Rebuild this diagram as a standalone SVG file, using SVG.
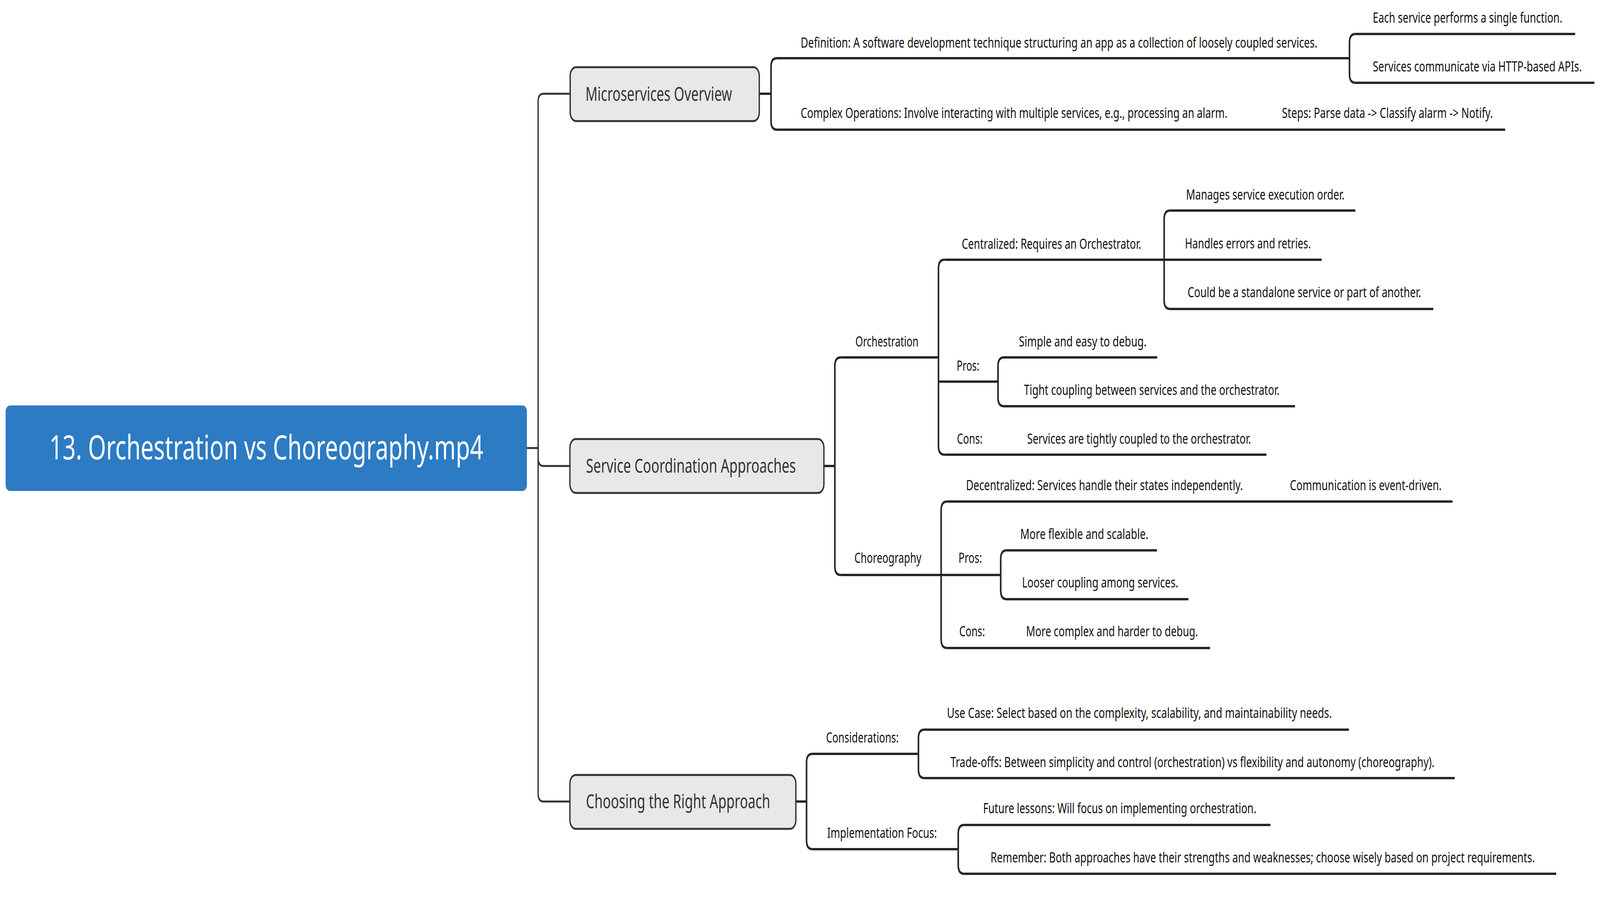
<svg xmlns="http://www.w3.org/2000/svg" width="5991" height="2299" viewBox="0 0 5991 2299" preserveAspectRatio="none">
<style>
@media (max-width: 5900px) { svg { width: 100vw; height: 100vh; } }
.bg{fill:#ffffff}
.root{fill:#2c7bc3}
.roott{font-family:"Noto Sans","Open Sans","Liberation Sans",sans-serif;font-size:86px;fill:#ffffff;text-anchor:middle}
.main{fill:#e8e8e8;stroke:#333333;stroke-width:5}
.maint{font-family:"Noto Sans","Open Sans","Liberation Sans",sans-serif;font-size:50px;fill:#333333}
.t{font-family:"Noto Sans","Open Sans","Liberation Sans",sans-serif;font-size:37px;fill:#111111}
.ln{fill:none;stroke:#262626;stroke-width:6;stroke-linecap:butt;stroke-linejoin:round}
.trunk{fill:none;stroke:#333333;stroke-width:5}
</style>
<rect class="bg" x="0" y="0" width="5991" height="2299"/>

<g id="connectors">
  <path class="trunk" d="M1973 1147 H2015"/>
  <path class="trunk" d="M2134 240 H2035 Q2015 240 2015 260 V2032 Q2015 2052 2035 2052 H2134"/>
  <path class="trunk" d="M2015 1173 Q2015 1193 2035 1193 H2134"/>

  <!-- Microservices -->
  <path class="ln" d="M2843 240 H2887"/>
  <path class="ln" d="M2909 149 Q2887 149 2887 171 V310 Q2887 332 2909 332"/>
  <path class="ln" d="M2909 149 H5053"/>
  <path class="ln" d="M2909 332 H5636"/>
  <path class="ln" d="M5075 87 Q5053 87 5053 109 V190 Q5053 212 5075 212"/>
  <path class="ln" d="M5075 87 H5898"/>
  <path class="ln" d="M5075 212 H5970"/>

  <!-- Service Coordination -->
  <path class="ln" d="M3085 1193 H3126"/>
  <path class="ln" d="M3148 915 Q3126 915 3126 937 V1450 Q3126 1472 3148 1472"/>
  <path class="ln" d="M3148 915 H3514"/>
  <path class="ln" d="M3148 1472 H3524"/>

  <path class="ln" d="M3536 665 Q3514 665 3514 687 V1142 Q3514 1164 3536 1164"/>
  <path class="ln" d="M3536 665 H4359"/>
  <path class="ln" d="M3514 977 H3737"/>
  <path class="ln" d="M3536 1164 H4742"/>

  <path class="ln" d="M4381 539 Q4359 539 4359 561 V769 Q4359 791 4381 791"/>
  <path class="ln" d="M4381 539 H5075"/>
  <path class="ln" d="M4359 665 H4949"/>
  <path class="ln" d="M4381 791 H5367"/>

  <path class="ln" d="M3759 915 Q3737 915 3737 937 V1018 Q3737 1040 3759 1040"/>
  <path class="ln" d="M3759 915 H4333"/>
  <path class="ln" d="M3759 1040 H4849"/>

  <path class="ln" d="M3546 1284 Q3524 1284 3524 1306 V1637 Q3524 1659 3546 1659"/>
  <path class="ln" d="M3546 1284 H5439"/>
  <path class="ln" d="M3524 1472 H3747"/>
  <path class="ln" d="M3546 1659 H4531"/>

  <path class="ln" d="M3769 1409 Q3747 1409 3747 1431 V1512 Q3747 1534 3769 1534"/>
  <path class="ln" d="M3769 1409 H4332"/>
  <path class="ln" d="M3769 1534 H4450"/>

  <!-- Choosing -->
  <path class="ln" d="M2980 2052 H3020"/>
  <path class="ln" d="M3042 1930 Q3020 1930 3020 1952 V2152 Q3020 2174 3042 2174"/>
  <path class="ln" d="M3042 1930 H3439"/>
  <path class="ln" d="M3042 2174 H3588"/>

  <path class="ln" d="M3461 1868 Q3439 1868 3439 1890 V1970 Q3439 1992 3461 1992"/>
  <path class="ln" d="M3461 1868 H5051"/>
  <path class="ln" d="M3461 1992 H5447"/>

  <path class="ln" d="M3610 2112 Q3588 2112 3588 2134 V2215 Q3588 2237 3610 2237"/>
  <path class="ln" d="M3610 2112 H4757"/>
  <path class="ln" d="M3610 2237 H5827"/>
</g>

<g id="root">
  <rect class="root" x="21" y="1038" width="1952" height="219" rx="16"/>
  <text class="roott" x="997" y="1176" textLength="1625" lengthAdjust="spacingAndGlyphs">13. Orchestration vs Choreography.mp4</text>
</g>

<g id="microservices-overview">
  <rect class="main" x="2135" y="172" width="708" height="138" rx="22"/>
  <text class="maint" x="2192" y="258" textLength="549" lengthAdjust="spacingAndGlyphs">Microservices Overview</text>
</g>
<g id="definition"><text class="t" x="2998" y="122" textLength="1935" lengthAdjust="spacingAndGlyphs">Definition: A software development technique structuring an app as a collection of loosely coupled services.</text></g>
<g id="single-function"><text class="t" x="5140" y="58" textLength="710" lengthAdjust="spacingAndGlyphs">Each service performs a single function.</text></g>
<g id="http-apis"><text class="t" x="5140" y="183" textLength="783" lengthAdjust="spacingAndGlyphs">Services communicate via HTTP-based APIs.</text></g>
<g id="complex-operations"><text class="t" x="2998" y="302" textLength="1598" lengthAdjust="spacingAndGlyphs">Complex Operations: Involve interacting with multiple services, e.g., processing an alarm.</text></g>
<g id="steps"><text class="t" x="4800" y="302" textLength="790" lengthAdjust="spacingAndGlyphs">Steps: Parse data -&gt; Classify alarm -&gt; Notify.</text></g>

<g id="service-coordination">
  <rect class="main" x="2134" y="1124" width="951" height="138" rx="22"/>
  <text class="maint" x="2194" y="1210" textLength="786" lengthAdjust="spacingAndGlyphs">Service Coordination Approaches</text>
</g>
<g id="orchestration"><text class="t" x="3203" y="887" textLength="236" lengthAdjust="spacingAndGlyphs">Orchestration</text></g>
<g id="centralized"><text class="t" x="3601" y="637" textLength="672" lengthAdjust="spacingAndGlyphs">Centralized: Requires an Orchestrator.</text></g>
<g id="manages-order"><text class="t" x="4441" y="511" textLength="593" lengthAdjust="spacingAndGlyphs">Manages service execution order.</text></g>
<g id="handles-errors"><text class="t" x="4437" y="636" textLength="471" lengthAdjust="spacingAndGlyphs">Handles errors and retries.</text></g>
<g id="standalone"><text class="t" x="4447" y="761" textLength="874" lengthAdjust="spacingAndGlyphs">Could be a standalone service or part of another.</text></g>
<g id="orch-pros"><text class="t" x="3582" y="949" textLength="85" lengthAdjust="spacingAndGlyphs">Pros:</text></g>
<g id="orch-simple"><text class="t" x="3815" y="887" textLength="478" lengthAdjust="spacingAndGlyphs">Simple and easy to debug.</text></g>
<g id="orch-tight"><text class="t" x="3834" y="1011" textLength="957" lengthAdjust="spacingAndGlyphs">Tight coupling between services and the orchestrator.</text></g>
<g id="orch-cons"><text class="t" x="3583" y="1136" textLength="96" lengthAdjust="spacingAndGlyphs">Cons:</text></g>
<g id="orch-cons-detail"><text class="t" x="3846" y="1136" textLength="838" lengthAdjust="spacingAndGlyphs">Services are tightly coupled to the orchestrator.</text></g>

<g id="choreography"><text class="t" x="3199" y="1441" textLength="251" lengthAdjust="spacingAndGlyphs">Choreography</text></g>
<g id="decentralized"><text class="t" x="3617" y="1255" textLength="1037" lengthAdjust="spacingAndGlyphs">Decentralized: Services handle their states independently.</text></g>
<g id="event-driven"><text class="t" x="4830" y="1255" textLength="568" lengthAdjust="spacingAndGlyphs">Communication is event-driven.</text></g>
<g id="choreo-pros"><text class="t" x="3589" y="1441" textLength="88" lengthAdjust="spacingAndGlyphs">Pros:</text></g>
<g id="choreo-flexible"><text class="t" x="3820" y="1380" textLength="480" lengthAdjust="spacingAndGlyphs">More flexible and scalable.</text></g>
<g id="choreo-looser"><text class="t" x="3827" y="1504" textLength="585" lengthAdjust="spacingAndGlyphs">Looser coupling among services.</text></g>
<g id="choreo-cons"><text class="t" x="3592" y="1629" textLength="96" lengthAdjust="spacingAndGlyphs">Cons:</text></g>
<g id="choreo-cons-detail"><text class="t" x="3842" y="1629" textLength="644" lengthAdjust="spacingAndGlyphs">More complex and harder to debug.</text></g>

<g id="choosing">
  <rect class="main" x="2134" y="1984" width="846" height="138" rx="22"/>
  <text class="maint" x="2194" y="2069" textLength="690" lengthAdjust="spacingAndGlyphs">Choosing the Right Approach</text>
</g>
<g id="considerations"><text class="t" x="3093" y="1901" textLength="272" lengthAdjust="spacingAndGlyphs">Considerations:</text></g>
<g id="use-case"><text class="t" x="3546" y="1838" textLength="1441" lengthAdjust="spacingAndGlyphs">Use Case: Select based on the complexity, scalability, and maintainability needs.</text></g>
<g id="trade-offs"><text class="t" x="3559" y="1964" textLength="1812" lengthAdjust="spacingAndGlyphs">Trade-offs: Between simplicity and control (orchestration) vs flexibility and autonomy (choreography).</text></g>
<g id="implementation-focus"><text class="t" x="3097" y="2145" textLength="411" lengthAdjust="spacingAndGlyphs">Implementation Focus:</text></g>
<g id="future-lessons"><text class="t" x="3681" y="2082" textLength="1023" lengthAdjust="spacingAndGlyphs">Future lessons: Will focus on implementing orchestration.</text></g>
<g id="remember"><text class="t" x="3709" y="2208" textLength="2038" lengthAdjust="spacingAndGlyphs">Remember: Both approaches have their strengths and weaknesses; choose wisely based on project requirements.</text></g>
</svg>
